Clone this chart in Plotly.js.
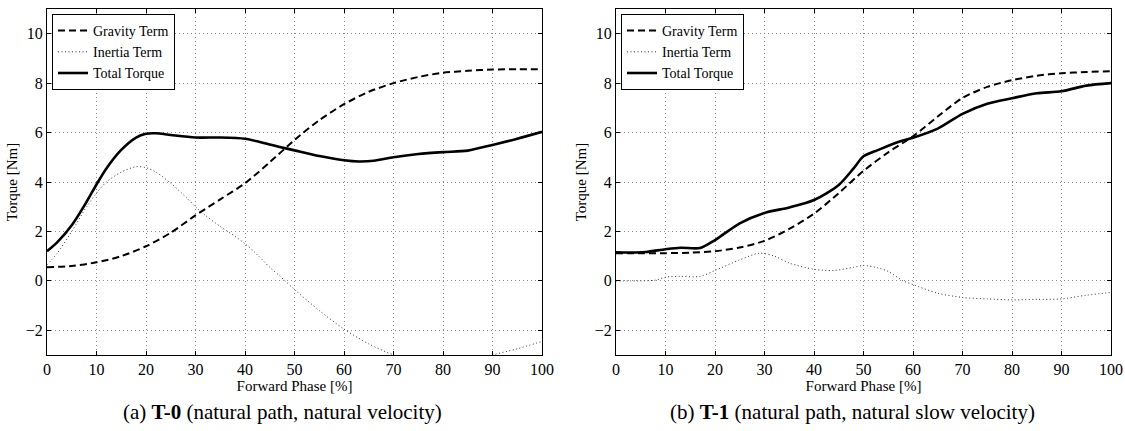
<!DOCTYPE html>
<html>
<head>
<meta charset="utf-8">
<script src="https://cdn.plot.ly/plotly-3.0.1.min.js"></script>
<style>html,body{margin:0;padding:0;background:#fff;}#chart{width:1125px;height:431px;}</style>
</head>
<body>
<div id="chart"></div>
<script>
// ---- T-0 (natural path, natural velocity) ----
const xT0Grav = [0,5,10,15,20,25,30,35,40,45,50,55,60,65,70,75,80,85,90,95,100];
const gravT0  = [0.55,0.6,0.75,1.0,1.4,1.95,2.65,3.3,3.95,4.8,5.7,6.5,7.15,7.65,8.0,8.25,8.42,8.5,8.55,8.56,8.56];

const xT0Iner = [0,2,5,8,10,12,15,18,20,22,25,28,30,32,35,38,40,42,45,47,50,55,60,65,70,75,80,85,90,95,100];
const inerT0  = [0.65,1.1,2.0,3.0,3.55,4.0,4.4,4.62,4.58,4.4,3.95,3.4,3.0,2.65,2.2,1.8,1.5,1.15,0.55,0.2,-0.35,-1.2,-1.95,-2.55,-3.0,-3.3,-3.45,-3.35,-3.0,-2.75,-2.45];

const xT0Tot  = [0,2,5,8,10,12,15,18,20,22,25,30,35,40,43,45,47,50,55,60,63,66,70,75,80,85,90,95,100];
const totT0   = [1.2,1.55,2.25,3.2,3.9,4.55,5.3,5.8,5.95,5.97,5.9,5.8,5.8,5.75,5.62,5.52,5.42,5.28,5.05,4.88,4.83,4.86,5.0,5.13,5.21,5.27,5.5,5.75,6.03];

// ---- T-1 (natural path, natural slow velocity) ----
const xT1Grav = [0,5,10,15,20,25,30,35,40,45,50,55,60,65,70,75,80,85,90,95,100];
const gravT1  = [1.12,1.12,1.12,1.14,1.2,1.35,1.62,2.1,2.72,3.55,4.45,5.2,5.85,6.65,7.4,7.85,8.12,8.3,8.4,8.45,8.48];

const xT1Iner = [0,5,8,10,13,17,20,25,29,32,35,40,44,48,50,53,55,58,60,65,70,75,80,85,90,95,100];
const inerT1  = [0.0,0.0,0.03,0.15,0.18,0.18,0.42,0.85,1.12,1.0,0.72,0.47,0.42,0.55,0.62,0.52,0.38,0.0,-0.15,-0.5,-0.67,-0.73,-0.77,-0.75,-0.73,-0.58,-0.47];

const xT1Tot  = [0,3,6,10,13,17,20,25,30,35,40,45,48,50,53,57,60,65,70,75,80,85,90,95,100];
const totT1   = [1.16,1.15,1.17,1.28,1.34,1.33,1.65,2.33,2.75,2.97,3.27,3.88,4.55,5.04,5.3,5.62,5.79,6.16,6.76,7.17,7.39,7.59,7.67,7.9,8.0];

const seriesNames = ['Gravity Term','Inertia Term','Total Torque'];
const xTicks = [0,10,20,30,40,50,60,70,80,90,100];
const yTicks = [-2,0,2,4,6,8,10];
const xTitle = 'Forward Phase [%]';
const yTitle = 'Torque [Nm]';
const captionA = '(a) <b>T-0</b> (natural path, natural velocity)';
const captionB = '(b) <b>T-1</b> (natural path, natural slow velocity)';

const FONT = 'Liberation Serif';

function mk(x, y, name, style, xa, ya, legend) {
  return {x: x, y: y, name: name, type: 'scatter', mode: 'lines', xaxis: xa, yaxis: ya, legend: legend,
          line: Object.assign({shape: 'spline', smoothing: 0.8}, style)};
}
const sGrav = {color: '#000', width: 2, dash: '7px,4px'};
const sIner = {color: '#333', width: 1, dash: '1px,2.5px'};
const sTot  = {color: '#000', width: 2.6};

const data = [
  mk(xT0Grav, gravT0, seriesNames[0], sGrav, 'x', 'y', 'legend'),
  mk(xT0Iner, inerT0, seriesNames[1], sIner, 'x', 'y', 'legend'),
  mk(xT0Tot,  totT0,  seriesNames[2], sTot,  'x', 'y', 'legend'),
  mk(xT1Grav, gravT1, seriesNames[0], sGrav, 'x2', 'y2', 'legend2'),
  mk(xT1Iner, inerT1, seriesNames[1], sIner, 'x2', 'y2', 'legend2'),
  mk(xT1Tot,  totT1,  seriesNames[2], sTot,  'x2', 'y2', 'legend2')
];

const W = 1125, H = 431;
const yDom = [(H-355)/H, (H-9)/H];
const gridStyle = {showgrid: true, gridcolor: '#8c8c8c', griddash: '1px,3px', gridwidth: 1, zeroline: false};
function xax(dom, anchor) {
  return Object.assign({domain: dom, anchor: anchor, range: [0,100], tickvals: xTicks, ticks: 'inside', ticklen: 4,
          tickcolor: '#000', showline: true, linecolor: '#000', linewidth: 1, mirror: 'ticks',
          tickfont: {family: FONT, size: 16, color: '#000'}, automargin: false,
          title: {text: xTitle, font: {family: FONT, size: 15, color: '#000'}, standoff: 0}}, gridStyle);
}
function yax(anchor) {
  return Object.assign({domain: yDom, anchor: anchor, range: [-3,11], tickvals: yTicks, ticks: 'inside', ticklen: 4,
          tickcolor: '#000', showline: true, linecolor: '#000', linewidth: 1, mirror: 'ticks',
          tickfont: {family: FONT, size: 16, color: '#000'}, automargin: false,
          title: {text: yTitle, font: {family: FONT, size: 15, color: '#000'}, standoff: 4}}, gridStyle);
}
function leg(xpx) {
  return {x: xpx/W, y: (H-14)/H, xanchor: 'left', yanchor: 'top', bgcolor: '#fff',
          bordercolor: '#000', borderwidth: 1, font: {family: FONT, size: 14, color: '#000'},
          tracegroupgap: 0};
}

const layout = {
  width: W, height: H, margin: {l: 0, r: 0, t: 0, b: 0},
  paper_bgcolor: '#fff', plot_bgcolor: '#fff', showlegend: true,
  font: {family: FONT, color: '#000', size: 15},
  xaxis: xax([47/W, 542/W], 'y'),
  yaxis: yax('x'),
  xaxis2: xax([616/W, 1111/W], 'y2'),
  yaxis2: yax('x2'),
  legend: leg(52),
  legend2: leg(621),
  annotations: [
    {text: captionA, xref: 'paper', yref: 'paper', x: 282/W, y: (H-412)/H, xanchor: 'center', yanchor: 'middle',
     showarrow: false, font: {family: FONT, size: 21, color: '#000'}},
    {text: captionB, xref: 'paper', yref: 'paper', x: 852/W, y: (H-412)/H, xanchor: 'center', yanchor: 'middle',
     showarrow: false, font: {family: FONT, size: 21, color: '#000'}}
  ]
};

Plotly.newPlot('chart', data, layout, {staticPlot: true, displayModeBar: false});
</script>
</body>
</html>
